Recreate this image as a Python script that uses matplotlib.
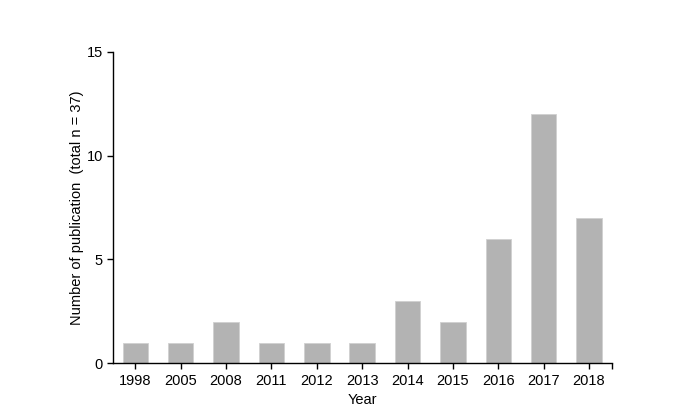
import matplotlib
matplotlib.use("Agg")
import matplotlib.pyplot as plt

years = ["1998", "2005", "2008", "2011", "2012", "2013", "2014", "2015", "2016", "2017", "2018"]
counts = [1, 1, 2, 1, 1, 1, 3, 2, 6, 12, 7]
yticks = [0, 5, 10, 15]

plt.rcParams['font.family'] = ['Liberation Sans', 'DejaVu Sans']
fig = plt.figure(figsize=(6.87, 4.15), dpi=100)
ax = fig.add_axes([112.7/687, 1 - 363.3/415, (611.7 - 112.7)/687, (363.3 - 51.7)/415])
x = list(range(len(years)))
ax.bar(x, counts, width=0.56, color='#b3b3b3', edgecolor='#d0d0d0', linewidth=0.6)
ax.set_xlim(-0.5, len(years) - 0.5)
ax.set_ylim(0, 15)
ax.set_yticks(yticks)
ax.set_xticks(x)
ax.set_xticklabels(years)
ax.set_xticks([len(years) - 0.5], minor=True)
ax.tick_params(axis='both', direction='out', length=4, width=1, labelsize=10.5, colors='black', pad=3)
ax.tick_params(axis='x', which='minor', length=4, width=1)
ax.tick_params(axis='x', pad=4)
for s in ['top', 'right']:
    ax.spines[s].set_visible(False)
for s in ['left', 'bottom']:
    ax.spines[s].set_linewidth(1)
ax.set_xlabel('Year', fontsize=10.5, labelpad=3)
ax.set_ylabel('Number of publication  (total n = 37)', fontsize=10.5, labelpad=2)
fig.savefig('out.png', dpi=100)
